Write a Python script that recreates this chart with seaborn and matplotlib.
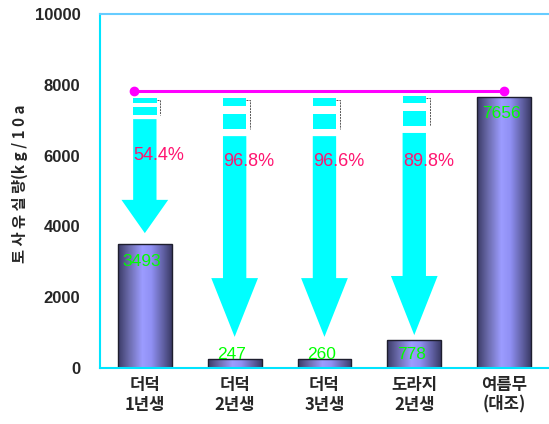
import numpy as np
import matplotlib
matplotlib.use('Agg')
import matplotlib.pyplot as plt
import seaborn as sns
import pandas as pd
from matplotlib.colors import LinearSegmentedColormap
from matplotlib.patches import Polygon, Rectangle

# 데이터
categories = ['더덕\n1년생', '더덕\n2년생', '더덕\n3년생', '도라지\n2년생', '여름무\n(대조)']
soil_loss = [3493, 247, 260, 778, 7656]
reduction_labels = ['54.4%', '96.8%', '96.6%', '89.8%']
control_level = 7830
y_ticks = [0, 2000, 4000, 6000, 8000, 10000]

sns.set_theme(style='white')
plt.rcParams['font.family'] = ['Noto Sans CJK KR', 'DejaVu Sans']

fig = plt.figure(figsize=(5.49, 4.24), dpi=100)
ax = fig.add_axes([0.182, 0.132, 0.818, 0.835])

df = pd.DataFrame({'cat': categories, 'loss': soil_loss})
sns.barplot(data=df, x='cat', y='loss', ax=ax, width=0.6, color='#8888ee',
            edgecolor='#1e1e2e', linewidth=1.0, zorder=2)

# 원통 모양 그라데이션
cyl = LinearSegmentedColormap.from_list('cyl', [
    (0.0, '#3a3a66'), (0.2, '#6a6aaa'), (0.45, '#9c9cff'),
    (0.62, '#9090f4'), (0.85, '#5e5ea0'), (1.0, '#3a3a66')])
grad = np.linspace(0, 1, 256).reshape(1, -1)
for p in ax.patches:
    x, w, h = p.get_x(), p.get_width(), p.get_height()
    p.set_facecolor('none')
    im = ax.imshow(grad, extent=[x, x + w, 0, h], aspect='auto', cmap=cyl,
                   zorder=1.5, interpolation='bilinear')
    im.set_clip_path(p)

# 수치 라벨 (초록)
for i, v in enumerate(soil_loss):
    ax.text(i - 0.03, max(v - 480, 370), str(v), color='#00ff00', fontsize=12.5,
            ha='center', va='center', family='Liberation Sans', zorder=5)

# 대조구 기준선
ax.plot([-0.12, 4], [control_level, control_level], color='#ff00ff', lw=2.2,
        marker='o', ms=6, zorder=4)

# 감소 화살표
cyan = '#00ffff'
shaft_w, head_w = 0.26, 0.52
shaft_tops = [7030, 6550, 6550, 6640]
head_starts = [4750, 2540, 2540, 2600]
tips = [3810, 880, 880, 930]
segments = [[(7630, 7490), (7370, 7150)],
            [(7630, 7400), (7180, 6750)],
            [(7630, 7400), (7180, 6750)],
            [(7680, 7490), (7260, 6840)]]
for i in range(4):
    c = i
    pts = [(c - shaft_w / 2, shaft_tops[i]), (c + shaft_w / 2, shaft_tops[i]),
           (c + shaft_w / 2, head_starts[i]), (c + head_w / 2, head_starts[i]),
           (c, tips[i]), (c - head_w / 2, head_starts[i]),
           (c - shaft_w / 2, head_starts[i])]
    ax.add_patch(Polygon(pts, closed=True, facecolor=cyan, edgecolor='none', zorder=3))
    for top, bot in segments[i]:
        ax.add_patch(Rectangle((c - shaft_w / 2, bot), shaft_w, top - bot,
                               facecolor=cyan, edgecolor='none', zorder=3))
    # 점선 괄호
    xr = c + shaft_w / 2 + 0.04
    y0 = segments[i][0][0] - 60
    ax.plot([c + shaft_w / 2, xr, xr], [y0, y0, segments[i][1][1]],
            color='#555555', lw=0.7, ls=(0, (2, 1)), zorder=3)
    ax.text(c + 0.16, 6000 if i == 0 else 5830, reduction_labels[i], color='#ff1470',
            fontsize=13, ha='center', va='center', family='Liberation Sans', zorder=5)

ax.set_xlim(-0.5, 4.5)
ax.set_ylim(0, 10000)
ax.set_yticks(y_ticks)
ax.set_yticklabels([str(t) for t in y_ticks], family='Liberation Sans',
                   fontweight='bold', fontsize=12)
ax.set_xticks(range(len(categories)))
ax.set_xticklabels(categories, fontweight='heavy', fontsize=12, linespacing=1.1)
ax.set_xticks([0.5, 1.5, 2.5, 3.5], minor=True)
ax.tick_params(axis='y', direction='in', length=5, color='#00e5ff', pad=14)
ax.tick_params(axis='x', which='major', length=0, pad=6)
ax.tick_params(axis='x', which='minor', direction='in', length=5, color='#00e5ff')
ax.set_xlabel('')
ax.set_ylabel('')

for s in ['left', 'bottom']:
    ax.spines[s].set_color('#00e5ff')
    ax.spines[s].set_linewidth(1.5)
ax.spines['top'].set_color('#66ccff')
ax.spines['top'].set_linewidth(1.5)
ax.spines['right'].set_visible(False)

fig.text(0.036, 0.567, '토 사 유 실 량(k g / 1 0 a', rotation=90, ha='center',
         va='center', fontsize=11, fontweight='heavy')

fig.savefig('out.png', dpi=100)
